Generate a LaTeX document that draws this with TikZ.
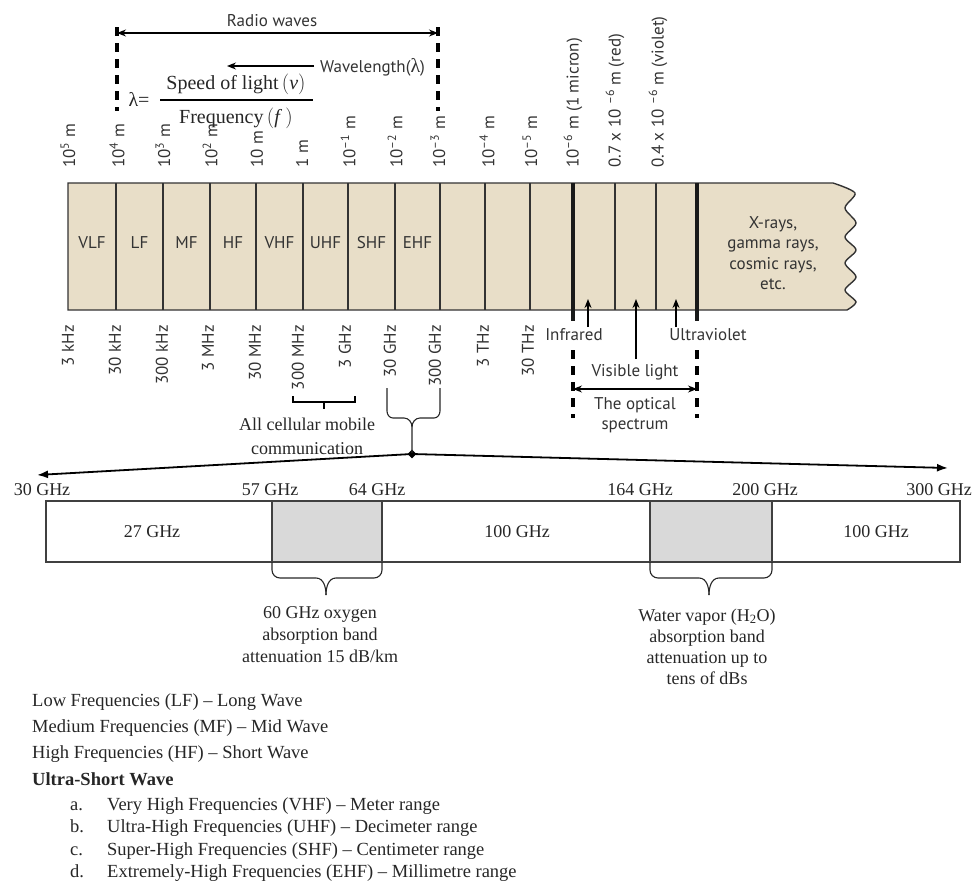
\documentclass[tikz,border=0pt]{standalone}
\usepackage{fontspec}
\setmainfont{Liberation Serif}
\newfontfamily\sansf{PT Sans}
\usetikzlibrary{arrows.meta,shapes.geometric}
\definecolor{beige}{HTML}{E8DEC8}
\definecolor{ink}{HTML}{333333}
\definecolor{bandgray}{HTML}{D9D9D9}
\begin{document}
\begin{tikzpicture}[x=1pt,y=-1pt,
  sf/.style={font=\sansf\fontsize{17}{19}\selectfont, text=ink, inner sep=0pt},
  rm/.style={font=\fontsize{18}{22}\selectfont, text=black!85, inner sep=0pt},
  vt/.style={sf, rotate=90, anchor=west},
  vb/.style={sf, rotate=90, anchor=east},
  thinsep/.style={draw=ink, line width=1.4},
  thicksep/.style={draw=black!90, line width=3.2},
  dashsep/.style={draw=black, line width=3.4, dash pattern=on 9 off 7},
  tip/.style={-{Stealth[length=9,width=7]}},
  dtip/.style={{Stealth[length=9,width=7]}-{Stealth[length=9,width=7]}},
  lbrace/.style={draw=black!85, line width=1.1},
  list/.style={font=\fontsize{18.5}{22}\selectfont, text=black!85, inner sep=0pt, anchor=base west}
]
\useasboundingbox (0,0) rectangle (978,881);

% ---------- spectrum bar ----------
\filldraw[fill=beige, draw=ink, line width=1.4]
  (68,310) -- (68,183) -- (833,183) -- plot[smooth] coordinates
  {(833,183) (855,193) (845,208) (856,223) (845,237) (856,250) (845,263) (856,277) (845,290) (856,302) (847,310)}
  -- cycle;
\foreach \x in {116,163,210,256,303,348,395,440,485,530,615,656}
  \draw[thinsep] (\x,183) -- (\x,310);
\foreach \x in {573,697}
  \draw[thicksep] (\x,183) -- (\x,321);

\node[sf] (vlf) at (92,243) {VLF};
\node[sf] (lf) at (139.5,243) {LF};
\node[sf] (mf) at (186.5,243) {MF};
\node[sf] (hf) at (233,243) {HF};
\node[sf] (vhf) at (279.5,243) {VHF};
\node[sf] (uhf) at (325.5,243) {UHF};
\node[sf] (shf) at (371.5,243) {SHF};
\node[sf] (ehf) at (417.5,243) {EHF};
\node[sf, align=center, font=\sansf\fontsize{17}{20.5}\selectfont] (xray) at (773,253)
  {X-rays,\\gamma rays,\\cosmic rays,\\etc.};

% ---------- wavelength labels (top) ----------
\node[vt] (w1) at (68,168) {10\textsuperscript{5} m};
\node[vt] (w2) at (117,168) {10\textsuperscript{4} m};
\node[vt] (w3) at (163,168) {10\textsuperscript{3} m};
\node[vt] (w4) at (210,168) {10\textsuperscript{2} m};
\node[vt] (w5) at (257,168) {10 m};
\node[vt] (w6) at (302,168) {1 m};
\node[vt] (w7) at (348,168) {10\textsuperscript{–1} m};
\node[vt] (w8) at (395,168) {10\textsuperscript{–2} m};
\node[vt] (w9) at (438,168) {10\textsuperscript{–3} m};
\node[vt] (w10) at (487,168) {10\textsuperscript{–4} m};
\node[vt] (w11) at (530,168) {10\textsuperscript{–5} m};
\node[vt] (w12) at (573,168) {10\textsuperscript{–6} m (1 micron)};
\node[vt] (w13) at (615,168) {0.7 x 10 \textsuperscript{–6} m (red)};
\node[vt] (w14) at (658,168) {0.4 x 10 \textsuperscript{–6} m (violet)};

% ---------- frequency labels (bottom) ----------
\node[vb] (f1) at (68,325) {3 kHz};
\node[vb] (f2) at (115,325) {30 kHz};
\node[vb] (f3) at (162,325) {300 kHz};
\node[vb] (f4) at (208,325) {3 MHz};
\node[vb] (f5) at (255,325) {30 MHz};
\node[vb] (f6) at (298,325) {300 MHz};
\node[vb] (f7) at (345,325) {3 GHz};
\node[vb] (f8) at (390,325) {30 GHz};
\node[vb] (f9) at (435,325) {300 GHz};
\node[vb] (f10) at (483,325) {3 THz};
\node[vb] (f11) at (528,325) {30 THz};

% ---------- radio waves ----------
\node[sf] (radio) at (272,21) {Radio waves};
\coordinate (rl) at (117,33);
\coordinate (rr) at (438,33);
\draw[dtip, line width=1.3] (rl) -- (rr);
\draw[dashsep] (117,27) -- (117,111);
\draw[dashsep] (438,27) -- (438,111);
\node[sf, anchor=west] (wl) at (320,67) {Wavelength({\rmfamily\fontsize{20}{20}\selectfont λ})};
\coordinate (wlend) at (227,66);
\draw[tip, line width=1.3] (wl.west) ++(-6,-1) -- (wlend);

% formula
\node[rm, font=\fontsize{20}{22}\selectfont] (lam) at (139,99) {λ=};
\node[rm, font=\fontsize{20}{22}\selectfont] (num) at (236,84) {Speed of light\,$\bigl($\textit{v}$\bigr)$};
\node[rm, font=\fontsize{20}{22}\selectfont] (den) at (236,118) {Frequency\,$($\textit{f}\,$)$};
\draw[line width=1.1] (160,100) -- (313,100);

% ---------- optical part ----------
\coordinate (ir) at (588,327);
\coordinate (vis) at (636,359);
\coordinate (uv) at (676,327);
\draw[tip, line width=1.5] (ir) -- (588,299);
\draw[tip, line width=1.5] (vis) -- (636,299);
\draw[tip, line width=1.5] (uv) -- (676,299);
\node[sf] (infra) at (574,335) {Infrared};
\node[sf] (ultra) at (708,335) {Ultraviolet};
\node[sf] (visl) at (635,372) {Visible light};
\draw[dashsep] (573,350) -- (573,418);
\draw[dashsep] (697,350) -- (697,418);
\coordinate (ol) at (573,389);
\coordinate (or) at (697,389);
\draw[dtip, line width=1.3] (ol) -- (or);
\node[sf, align=center, font=\sansf\fontsize{17}{20}\selectfont] (opt) at (635,415) {The optical\\spectrum};

% ---------- cellular bracket ----------
\draw[line width=2.4] (293,396) -- (293,402) -- (355,402) -- (355,396);
\draw[line width=2.4] (324,402) -- (324,409);
\node[rm, align=center, font=\fontsize{18}{24}\selectfont] (cell) at (307,436) {All cellular mobile\\communication};

% ---------- 30-300 GHz brace ----------
\node[diamond, fill=black, inner sep=0pt, minimum size=9pt] (dm) at (412,454) {};
\draw[lbrace] (387,388) -- (387,411) to[out=-90,in=180] (393,418) -- (404,418)
   to[out=0,in=90] (412,427) -- (dm.center);
\draw[lbrace] (440,388) -- (440,411) to[out=-90,in=0] (434,418) -- (420,418)
   to[out=180,in=90] (412,427);
\coordinate (leftend) at (37,475);
\coordinate (rightend) at (948,468);
\draw[-{Latex[length=11,width=8]}, line width=1.8] (dm.center) -- (leftend);
\draw[-{Latex[length=11,width=8]}, line width=1.8] (dm.center) -- (rightend);

% ---------- lower band ----------
\draw[draw=black!75, line width=1.1] (46,501) rectangle (960,562);
\filldraw[fill=bandgray, draw=black!75, line width=1.1] (272,501) rectangle (382,562);
\filldraw[fill=bandgray, draw=black!75, line width=1.1] (650,501) rectangle (772,562);

\node[rm] (g30) at (42,490) {30 GHz};
\node[rm] (g57) at (270,490) {57 GHz};
\node[rm] (g64) at (377,490) {64 GHz};
\node[rm] (g164) at (640,490) {164 GHz};
\node[rm] (g200) at (765,490) {200 GHz};
\node[rm] (g300) at (939,490) {300 GHz};

\node[rm] (b27) at (152,532) {27 GHz};
\node[rm] (b100a) at (517,532) {100 GHz};
\node[rm] (b100b) at (876,532) {100 GHz};

% lower braces
\draw[lbrace] (272,562) -- (272,570) to[out=-90,in=180] (280,578) -- (316,578) to[out=0,in=90] (326,595);
\draw[lbrace] (382,562) -- (382,570) to[out=-90,in=0] (374,578) -- (336,578) to[out=180,in=90] (326,595);
\draw[lbrace] (650,562) -- (650,570) to[out=-90,in=180] (658,578) -- (699,578) to[out=0,in=90] (709,595);
\draw[lbrace] (772,562) -- (772,570) to[out=-90,in=0] (764,578) -- (719,578) to[out=180,in=90] (709,595);

\node[rm, align=center, font=\fontsize{18}{22}\selectfont] (oxy) at (320,635)
  {60 GHz oxygen\\absorption band\\attenuation 15 dB/km};
\node[rm, align=center, font=\fontsize{18}{21}\selectfont] (wat) at (707,646.5)
  {Water vapor (H\textsubscript{2}O)\\absorption band\\attenuation up to\\tens of dBs};

% ---------- list ----------
\node[list] (l1) at (32,706) {Low Frequencies (LF) – Long Wave};
\node[list] (l2) at (32,732) {Medium Frequencies (MF) – Mid Wave};
\node[list] (l3) at (32,758) {High Frequencies (HF) – Short Wave};
\node[list, font=\bfseries\fontsize{18.5}{22}\selectfont] (l4) at (32,785) {Ultra-Short Wave};
\node[list] (la) at (70,810) {a.};
\node[list] (lb) at (70,832.5) {b.};
\node[list] (lc) at (70,855) {c.};
\node[list] (ld) at (70,877) {d.};
\node[list] (ta) at (107,810) {Very High Frequencies (VHF) – Meter range};
\node[list] (tb) at (107,832.5) {Ultra-High Frequencies (UHF) – Decimeter range};
\node[list] (tc) at (107,855) {Super-High Frequencies (SHF) – Centimeter range};
\node[list] (td) at (107,877) {Extremely-High Frequencies (EHF) – Millimetre range};
\end{tikzpicture}
\end{document}
